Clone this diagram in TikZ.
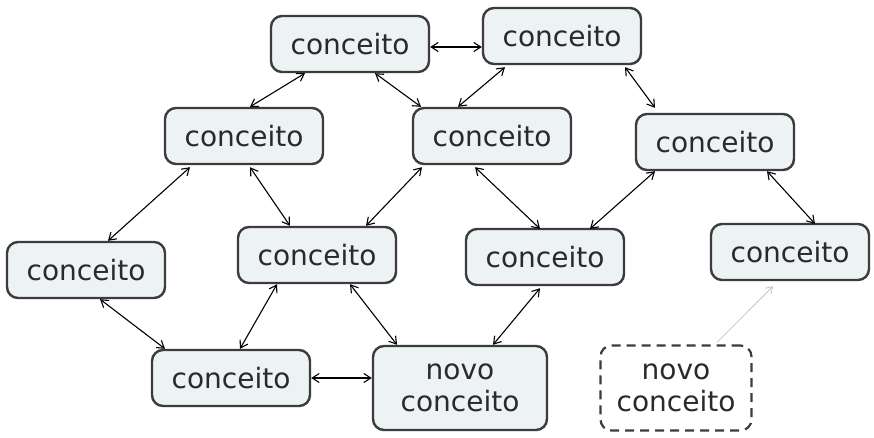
\documentclass[tikz,border=0pt]{standalone}
\usepackage{fontspec}
\setmainfont{DejaVu Sans}
\usetikzlibrary{arrows.meta}
\definecolor{boxfill}{HTML}{EDF2F4}
\definecolor{boxdraw}{HTML}{3C3C3C}
\definecolor{txt}{HTML}{2A2A2A}
\tikzset{
  concept/.style={draw=boxdraw, line width=2.4pt, fill=boxfill, rounded corners=11pt,
    minimum width=158pt, minimum height=56pt, inner sep=0pt, text=txt,
    font=\fontsize{28}{32}\selectfont, align=center},
  newbox/.style={concept, minimum width=174pt, minimum height=84pt},
  ghost/.style={concept, fill=white, dashed, dash pattern=on 9pt off 6pt, line width=2.2pt,
    minimum width=151pt, minimum height=85pt},
  link/.style={{Straight Barb[length=7pt,width=9pt]}-{Straight Barb[length=7pt,width=9pt]}, line width=1.1pt, black},
  faint/.style={-{Straight Barb[length=6pt,width=8pt]}, line width=0.8pt, gray!45}
}
\begin{document}
\begin{tikzpicture}[x=1pt,y=-1pt]
\useasboundingbox[fill=white] (0,0) rectangle (874,437);
\node[concept] (A) at (350,44) {conceito};
\node[concept] (B) at (562,36) {conceito};
\node[concept] (C) at (244,136) {conceito};
\node[concept] (D) at (492,136) {conceito};
\node[concept] (E) at (715,142) {conceito};
\node[concept] (F) at (86,270) {conceito};
\node[concept] (G) at (317,255) {conceito};
\node[concept] (H) at (545,257) {conceito};
\node[concept] (I) at (790,252) {conceito};
\node[concept] (J) at (231,378) {conceito};
\node[newbox] (K) at (460,388) {novo\\conceito};
\node[ghost] (L) at (676,388) {novo\\conceito};

\draw[link] ([yshift=-3pt]A.east) -- ([yshift=-3pt]A.east -| B.west);
\draw[link] ([xshift=-45pt]A.south) -- ([xshift=6pt]C.north);
\draw[link] ([xshift=25pt]A.south) -- ([xshift=-71pt]D.north);
\draw[link] ([xshift=-57pt,yshift=-2pt]B.south) -- ([xshift=-34pt]D.north);
\draw[link] ([xshift=63pt,yshift=-2pt]B.south) -- ([xshift=-60pt,yshift=5pt]E.north);
\draw[link] ([xshift=-54pt,yshift=-2pt]C.south) -- ([xshift=22pt]F.north);
\draw[link] ([xshift=6pt,yshift=-2pt]C.south) -- ([xshift=-27pt]G.north);
\draw[link] ([xshift=-70pt,yshift=-2pt]D.south) -- ([xshift=49pt]G.north);
\draw[link] ([xshift=-17pt,yshift=-2pt]D.south) -- ([xshift=-5pt,yshift=-1pt]H.north);
\draw[link] ([xshift=-60pt]E.south) -- ([xshift=45pt,yshift=-1pt]H.north);
\draw[link] ([xshift=52pt]E.south) -- ([xshift=25pt,yshift=-1pt]I.north);
\draw[link] ([xshift=14pt]F.south) -- ([xshift=-66pt]J.north);
\draw[link] ([xshift=-40pt]G.south) -- ([xshift=9pt]J.north);
\draw[link] ([xshift=33pt]G.south) -- ([xshift=-63pt]K.north);
\draw[link] ([xshift=-5pt,yshift=-2pt]H.south) -- ([xshift=33pt]K.north);
\draw[link] (J.east) -- (J.east -| K.west);
\draw[faint] ([xshift=41pt,yshift=2pt]L.north) -- ([xshift=-17pt,yshift=-5pt]I.south);
\end{tikzpicture}
\end{document}
